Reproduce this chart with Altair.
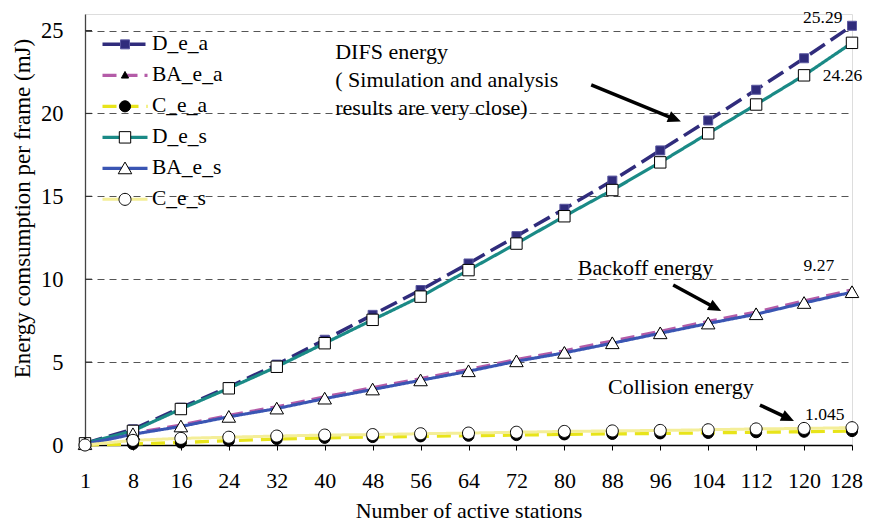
import math
import json
import altair as alt
import pandas as pd

# ---------------- data ----------------
stations = [1, 8, 16, 24, 32, 40, 48, 56, 64, 72, 80, 88, 96, 104, 112, 120, 128]
series_names = ["D_e_a", "BA_e_a", "C_e_a", "D_e_s", "BA_e_s", "C_e_s"]

D_e_a = [0.10, 0.95, 2.25, 3.50, 4.85, 6.35, 7.85, 9.35, 10.95, 12.60, 14.25, 15.95, 17.77, 19.58, 21.43, 23.33, 25.29]
BA_e_a = [0.05, 0.70, 1.20, 1.78, 2.30, 2.90, 3.45, 4.00, 4.55, 5.15, 5.68, 6.27, 6.85, 7.45, 8.02, 8.68, 9.35]
C_e_a = [0.00, 0.06, 0.15, 0.26, 0.36, 0.43, 0.48, 0.52, 0.56, 0.60, 0.64, 0.67, 0.70, 0.73, 0.77, 0.80, 0.84]
D_e_s = [0.10, 0.85, 2.17, 3.42, 4.72, 6.14, 7.55, 8.95, 10.55, 12.15, 13.80, 15.38, 17.05, 18.80, 20.54, 22.30, 24.26]
BA_e_s = [0.05, 0.65, 1.12, 1.70, 2.20, 2.80, 3.35, 3.90, 4.45, 5.05, 5.56, 6.14, 6.74, 7.33, 7.89, 8.57, 9.22]
C_e_s = [0.00, 0.28, 0.40, 0.47, 0.54, 0.60, 0.63, 0.68, 0.72, 0.77, 0.82, 0.85, 0.88, 0.92, 0.97, 1.00, 1.045]
series_values = [D_e_a, BA_e_a, C_e_a, D_e_s, BA_e_s, C_e_s]

y_ticks = [0, 5, 10, 15, 20, 25]
y_inner_ticks = [5, 10, 15, 20, 25]

note_texts = ["DIFS energy", "( Simulation and analysis", "results are very close)",
              "Backoff energy", "Collision energy"]
note_x = [5.22, 5.22, 5.22, 10.28, 10.91]
note_y = [23.70, 22.02, 20.33, 10.68, 3.50]

value_texts = ["25.29", "24.26", "9.27", "1.045"]
value_x = [14.98, 15.39, 14.99, 15.02]
value_y = [25.74, 22.26, 10.80, 1.81]

arrow_x1 = [10.56, 12.27, 14.08]
arrow_y1 = [21.72, 9.65, 2.41]
arrow_x2 = [12.43, 13.27, 14.79]
arrow_y2 = [19.51, 8.08, 1.45]

# ---------------- styles ----------------
W, H = 767, 431
X_MAX, Y_MAX = 16, 26
PX_X, PX_Y = W / X_MAX, H / Y_MAX

line_colors = ["#302C7C", "#B45CA8", "#E8E41A", "#1A8A86", "#3A55B3", "#F4EE98"]
line_dashes = [[18, 7], [14, 7], [14, 8], [1, 0], [1, 0], [1, 0]]
line_widths = [3.5, 3, 3.5, 3, 4, 5]
MARK_SIZE = 225  # 15px symbol box: path unit = 7.5px
marker_paths = [
    "M-0.6,-0.6H0.6V0.6H-0.6Z",
    "M0,-0.52L0.48,0.36H-0.48Z",
    "M0.74,0A0.74,0.74 0 1,1 -0.74,0A0.74,0.74 0 1,1 0.74,0Z",
    "M-0.76,-0.76H0.76V0.76H-0.76Z",
    "M0,-0.84L0.9,0.72H-0.9Z",
    "M0.8,0A0.8,0.8 0 1,1 -0.8,0A0.8,0.8 0 1,1 0.8,0Z",
]
marker_fills = ["#302C7C", "black", "black", "white", "white", "white"]
marker_strokes = ["#5B58A0", "black", "black", "black", "black", "black"]
FONT = "Liberation Serif"

# ---------------- tables ----------------
rows = []
for name, vals in zip(series_names, series_values):
    for i, v in enumerate(vals):
        rows.append({"idx": i, "value": v, "series": name, "marker": name})
df = pd.DataFrame(rows)

notes_df = pd.DataFrame({"x": note_x, "y": note_y, "t": note_texts})
values_df = pd.DataFrame({"x": value_x, "y": value_y, "t": value_texts})

arr_rows = []
for x1, y1, x2, y2 in zip(arrow_x1, arrow_y1, arrow_x2, arrow_y2):
    dxp = (x2 - x1) * PX_X
    dyp = -(y2 - y1) * PX_Y
    L = math.hypot(dxp, dyp)
    ang = math.degrees(math.atan2(dxp, -dyp)) % 360
    back = 8.0
    ex = x2 - (dxp / L) * back / PX_X
    ey = y2 + (dyp / L) * back / PX_Y
    arr_rows.append({"x1": x1, "y1": y1, "xe": ex, "ye": ey, "x2": x2, "y2": y2, "ang": ang})
arrows_df = pd.DataFrame(arr_rows)

ticks_df = pd.DataFrame({"v": y_inner_ticks})

# ---------------- scales / axes ----------------
xscale = alt.Scale(domain=[0, X_MAX], nice=False, zero=False)
yscale = alt.Scale(domain=[0, Y_MAX], nice=False, zero=False)

label_expr = json.dumps([str(s) for s in stations]) + "[datum.value]"
last_idx = len(stations) - 1

X_TITLE = "Number of active stations"
Y_TITLE = "Energy comsumption per frame (mJ)"

x_axis = alt.Axis(
    values=list(range(len(stations))), labelExpr=label_expr, grid=False,
    tickSize=5, tickColor="black", tickWidth=1, domainColor="black", domainWidth=1.3,
    labelFont=FONT, labelFontSize=22, labelColor="black", labelPadding=37,
    labelBaseline="alphabetic", labelFlush=False, labelOverlap=False,
    labelOffset={"condition": {"test": f"datum.value == {last_idx}", "value": -6}, "value": 0},
    title=X_TITLE, titleFont=FONT, titleFontSize=22,
    titleFontWeight="normal", titleColor="black", titleBaseline="alphabetic", titleY=72,
)
y_axis = alt.Axis(
    values=y_ticks, grid=True, gridDash=[7, 5], gridColor="#555555", gridWidth=1,
    ticks=False, tickSize=0, domainColor="#444444", domainWidth=1.3,
    labelFont=FONT, labelFontSize=22.5, labelColor="black", labelPadding=22,
    title=Y_TITLE, titleFont=FONT, titleFontSize=23,
    titleFontWeight="normal", titleColor="black", titleAngle=270,
    titleBaseline="alphabetic", titleX=-56, titleY=194, titleAlign="center",
)


def X(field):
    return alt.X(field, type="quantitative", scale=xscale, axis=x_axis, title=X_TITLE)


def Y(field):
    return alt.Y(field, type="quantitative", scale=yscale, axis=y_axis, title=Y_TITLE)


LEG_X, LEG_Y = 29.25, 19.6
LEG_FS = 21.5
LEG_ROWPAD = 8.0
LEG_LABEL_OFF = 16.25

line_legend = alt.Legend(
    title=None, orient="none", legendX=LEG_X, legendY=LEG_Y, direction="vertical",
    symbolType="M-3,0H3", symbolSize=225, symbolStrokeWidth=3,
    symbolFillColor="transparent", rowPadding=LEG_ROWPAD, padding=0, symbolOffset=0,
    labelFont=FONT, labelFontSize=LEG_FS, labelOpacity=0, labelOffset=LEG_LABEL_OFF,
    symbolDash={"expr": "scale('strokeDash', datum.value)"},
)
point_legend = alt.Legend(
    title=None, orient="none", legendX=LEG_X, legendY=LEG_Y, direction="vertical",
    symbolSize=MARK_SIZE, symbolStrokeWidth=1, rowPadding=LEG_ROWPAD, padding=0,
    symbolOffset=0,
    labelFont=FONT, labelFontSize=LEG_FS, labelColor="black", labelOffset=LEG_LABEL_OFF,
    symbolOpacity=1,
    symbolFillColor={"expr": "scale('fill', datum.value)"},
    symbolStrokeColor={"expr": "scale('stroke', datum.value)"},
)

base = alt.Chart(df)

lines = base.mark_line().encode(
    x=X("idx"),
    y=Y("value"),
    color=alt.Color("series:N", scale=alt.Scale(domain=series_names, range=line_colors), legend=line_legend),
    strokeDash=alt.StrokeDash("series:N", scale=alt.Scale(domain=series_names, range=line_dashes), legend=None),
    strokeWidth=alt.StrokeWidth("series:N", scale=alt.Scale(domain=series_names, range=line_widths), legend=None),
)

points = base.mark_point(filled=True, size=MARK_SIZE, strokeWidth=1, opacity=1).encode(
    x=X("idx"),
    y=Y("value"),
    shape=alt.Shape("marker:N", sort=series_names, scale=alt.Scale(range=marker_paths), legend=point_legend),
    fill=alt.Fill("marker:N", sort=series_names, scale=alt.Scale(range=marker_fills), legend=None),
    stroke=alt.Stroke("marker:N", sort=series_names, scale=alt.Scale(range=marker_strokes), legend=None),
)

yticks = alt.Chart(ticks_df).mark_rule(color="#333333", strokeWidth=1.2).encode(
    y=Y("v"),
    x=alt.value(0),
    x2=alt.value(7),
)

notes = alt.Chart(notes_df).mark_text(
    align="left", baseline="middle", font=FONT, fontSize=22, color="black"
).encode(
    x=X("x"),
    y=Y("y"),
    text="t:N",
)

vlabels = alt.Chart(values_df).mark_text(
    align="left", baseline="middle", font=FONT, fontSize=17.5, color="black"
).encode(
    x=X("x"),
    y=Y("y"),
    text="t:N",
)

arrow_lines = alt.Chart(arrows_df).mark_rule(color="black", strokeWidth=3.5).encode(
    x=X("x1"),
    y=Y("y1"),
    x2="xe:Q",
    y2="ye:Q",
)

arrow_heads = alt.Chart(arrows_df).mark_point(
    shape="M0,0L0.45,1L-0.45,1Z", filled=True, size=676, color="black", opacity=1, strokeWidth=0
).encode(
    x=X("x2"),
    y=Y("y2"),
    angle=alt.Angle("ang:Q", scale=None),
)

chart = alt.layer(
    lines, points, yticks, notes, vlabels, arrow_lines, arrow_heads
).properties(
    width=W, height=H,
    padding={"left": 77, "top": 6, "right": 11, "bottom": 77},
    autosize=alt.AutoSizeParams(type="none"),
).configure_view(
    stroke="#999999", strokeWidth=1
).configure(
    background="white"
)

chart.save("out.html", embed_options={"renderer": "svg", "actions": False})
